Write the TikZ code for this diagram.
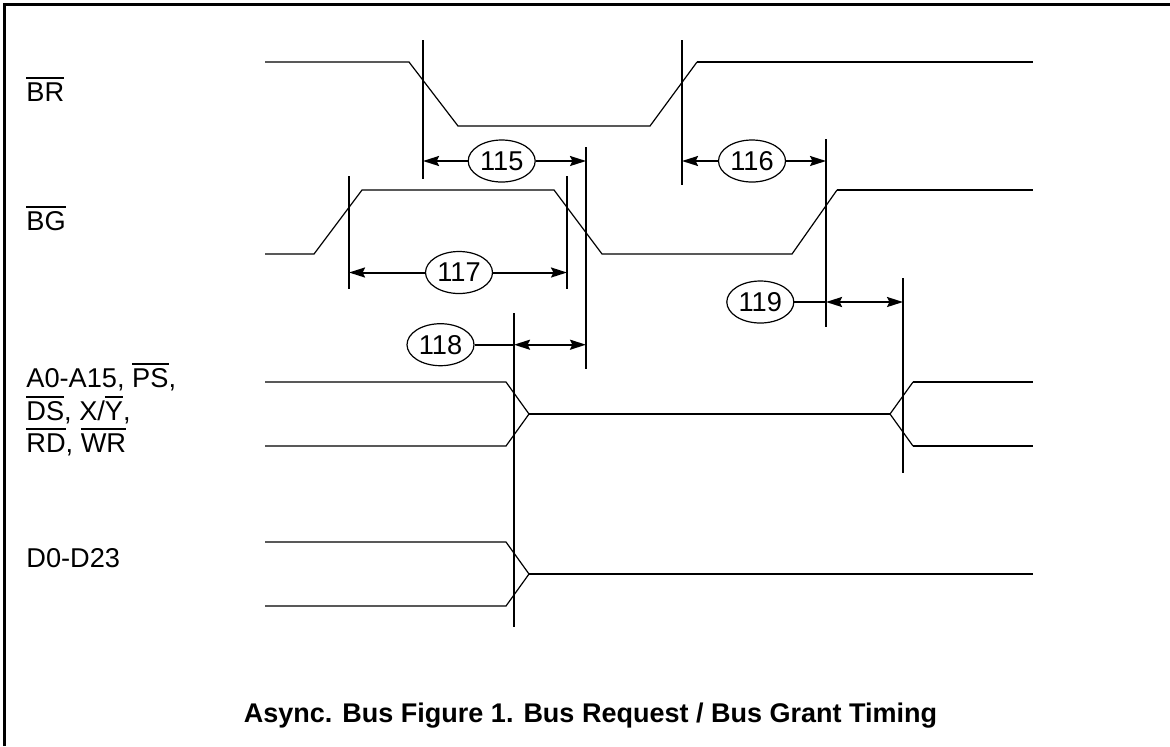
\documentclass[tikz,border=0pt]{standalone}
\usepackage{fontspec}
\setmainfont{Liberation Sans}
\usetikzlibrary{arrows.meta,shapes.geometric}
\newcommand\ovbar[1]{\setbox0=\hbox{#1}\rlap{\rule[\dimexpr\ht0+1.6pt\relax]{\wd0}{0.9pt}}\box0}
\tikzset{
  sig/.style={line width=0.6pt, line join=miter},
  sigthick/.style={line width=1pt},
  mark line/.style={line width=1pt},
  tag/.style={ellipse, draw, line width=0.6pt, minimum width=33.5pt, minimum height=21pt, inner sep=0pt, font=\fontsize{13.6}{16}\selectfont},
  lbl/.style={anchor=base west, inner sep=0pt, font=\fontsize{13.6}{16}\selectfont},
  arr/.style={line width=1pt, -{Stealth[length=8pt,width=5pt,inset=1.2pt]}},
  arrtwo/.style={line width=1pt, {Stealth[length=8pt,width=5pt,inset=1.2pt]}-{Stealth[length=8pt,width=5pt,inset=1.2pt]}},
  plain/.style={line width=1pt}
}
\begin{document}
\begin{tikzpicture}[x=0.5pt,y=-0.5pt]
\useasboundingbox (0,0) rectangle (1170,746);
% frame
\draw[line width=1.5pt] (4,746) -- (4,4) -- (1170,4);
% labels
\node[lbl] (lbr) at (26,101) {\ovbar{BR}};
\node[lbl] (lbg) at (26,230) {\ovbar{BG}};
\node[lbl] (la1) at (26,387) {A0-A15, \ovbar{PS},};
\node[lbl] (la2) at (26,420) {\ovbar{DS}, X/\ovbar{Y},};
\node[lbl] (la3) at (26,452) {\ovbar{RD}, \ovbar{WR}};
\node[lbl] (ld) at (26,567) {D0-D23};
% BR
\coordinate (br0) at (265,62); \coordinate (br1) at (409,62);
\coordinate (br2) at (458,126); \coordinate (br3) at (650,126);
\coordinate (br4) at (697,62); \coordinate (br5) at (1033,62);
\draw[sig] (br0) -- (br1) -- (br2) -- (br3) -- (br4);
\draw[sigthick] (br4) -- (br5);
% BG
\coordinate (bg0) at (265,254); \coordinate (bg1) at (314,254);
\coordinate (bg2) at (362,190); \coordinate (bg3) at (554,190);
\coordinate (bg4) at (602,254); \coordinate (bg5) at (792,254);
\coordinate (bg6) at (837,190); \coordinate (bg7) at (1033,190);
\draw[sig] (bg0) -- (bg1) -- (bg2) -- (bg3) -- (bg4) -- (bg5) -- (bg6);
\draw[sigthick] (bg6) -- (bg7);
% address bus
\coordinate (au0) at (265,382); \coordinate (au1) at (506,382);
\coordinate (al0) at (265,446); \coordinate (al1) at (506,446);
\coordinate (am0) at (529,414); \coordinate (am1) at (890,414);
\coordinate (au2) at (913,382); \coordinate (au3) at (1033,382);
\coordinate (al2) at (913,446); \coordinate (al3) at (1033,446);
\draw[sig] (au0) -- (au1) -- (am0) -- (al1) -- (al0);
\draw[sig] (am0) -- (am1);
\draw[sig] (au2) -- (am1) -- (al2);
\draw[sigthick] (au2) -- (au3);
\draw[sigthick] (al2) -- (al3);
% data bus
\coordinate (du0) at (265,542); \coordinate (du1) at (506,542);
\coordinate (dl0) at (265,606); \coordinate (dl1) at (506,606);
\coordinate (dm0) at (529,574); \coordinate (dm1) at (1033,574);
\draw[sig] (du0) -- (du1) -- (dm0) -- (dl1) -- (dl0);
\draw[sigthick] (dm0) -- (dm1);
% reference lines
\coordinate (v1a) at (423,40);   \coordinate (v1b) at (423,179);
\coordinate (v2a) at (682,40);   \coordinate (v2b) at (682,185);
\coordinate (v3a) at (349,176);  \coordinate (v3b) at (349,289);
\coordinate (v4a) at (567,176);  \coordinate (v4b) at (567,289);
\coordinate (v5a) at (586,147);  \coordinate (v5b) at (586,369);
\coordinate (v6a) at (826,139);  \coordinate (v6b) at (826,327);
\coordinate (v7a) at (514,313);  \coordinate (v7b) at (514,627);
\coordinate (v8a) at (903,278);  \coordinate (v8b) at (903,473);
\foreach \v in {1,...,8} {\draw[mark line] (v\v a) -- (v\v b);}
% timing tags
\node[tag] (t115) at (501.7,161) {115};
\node[tag] (t116) at (752,161) {116};
\node[tag] (t117) at (459,272.5) {117};
\node[tag] (t118) at (440.5,344.7) {118};
\node[tag] (t119) at (760.3,302) {119};
% dimension arrows
\coordinate (a115l) at (423,161);   \coordinate (a115r) at (586,161);
\coordinate (a116l) at (682,161);   \coordinate (a116r) at (826,161);
\coordinate (a117l) at (349,272.5); \coordinate (a117r) at (567,272.5);
\coordinate (a118l) at (514,344.7); \coordinate (a118r) at (586,344.7);
\coordinate (a119l) at (826,302);   \coordinate (a119r) at (903,302);
\draw[arr] (t115) -- (a115l); \draw[arr] (t115) -- (a115r);
\draw[arr] (t116) -- (a116l); \draw[arr] (t116) -- (a116r);
\draw[arr] (t117) -- (a117l); \draw[arr] (t117) -- (a117r);
\draw[plain] (t118) -- (a118l); \draw[arrtwo] (a118l) -- (a118r);
\draw[plain] (t119) -- (a119l); \draw[arrtwo] (a119l) -- (a119r);
% title
\node[anchor=base, inner sep=0pt, font=\bfseries\fontsize{13.5}{16}\selectfont] (title) at (590.5,722) {Async. Bus Figure 1. Bus Request / Bus Grant Timing};
\end{tikzpicture}
\end{document}
